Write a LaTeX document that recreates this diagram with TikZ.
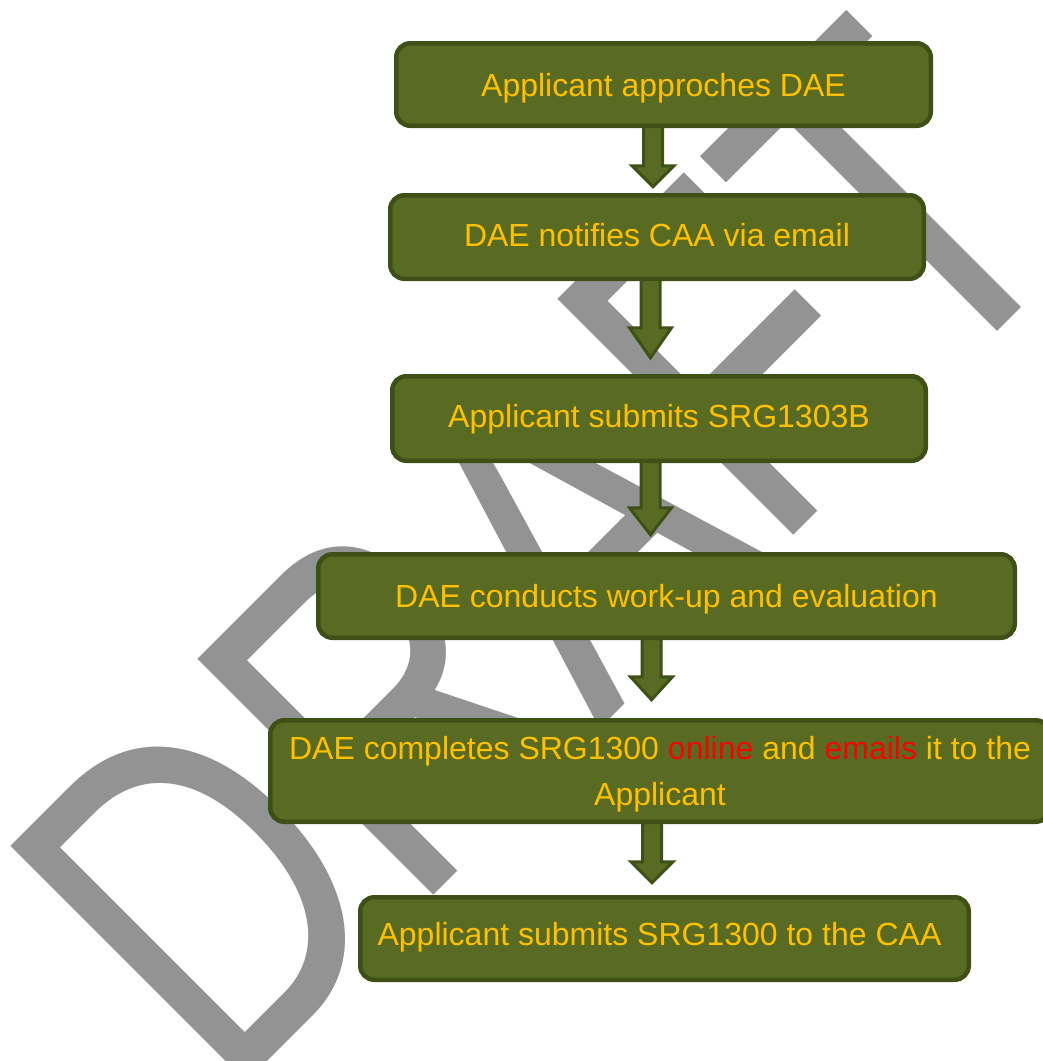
\documentclass[tikz,border=0pt]{standalone}
\usepackage{fontspec}
\setmainfont{Liberation Sans}
\usetikzlibrary{calc}
\definecolor{boxfill}{RGB}{89,107,35}
\definecolor{boxline}{RGB}{63,80,22}
\definecolor{txt}{RGB}{255,192,0}
\definecolor{wm}{RGB}{147,147,147}
\definecolor{redtxt}{RGB}{255,0,0}
\pgfdeclarelayer{wmlayer}
\pgfdeclarelayer{arrowlayer}
\pgfsetlayers{wmlayer,arrowlayer,main}
\tikzset{
  stepbox/.style={draw=boxline, fill=boxfill, line width=4.5pt, rounded corners=14pt,
    text=txt, font=\fontsize{32}{46}\selectfont, inner sep=0pt, outer sep=0pt,
    text height=23pt, text depth=0pt, align=center},
  flowarrow/.style={draw=boxline, fill=boxfill, line width=3pt, line join=miter},
}
\newcommand\flowarr[4]{% node, x offset, shaft length, head length
  \draw[flowarrow] ($(#1.south)+(#2,0)$) ++(-9.5,0) -- ++(0,#3) -- ++(-11.5,0)
    -- ++(21,#4) -- ++(21,-#4) -- ++(-11.5,0) -- ++(0,-#3) -- cycle;}
\begin{document}
\begin{tikzpicture}[x=1pt,y=-1pt]
\path[use as bounding box] (0,0) rectangle (1043,1061);
\clip (0,0) rectangle (1043,1061);
\begin{pgfonlayer}{wmlayer}
\node[text=wm, rotate=45, inner sep=0pt, outer sep=0pt] (wmark) at (539,554)
  {\scalebox{0.755}[1]{\fontsize{485}{485}\selectfont DRAFT}};
\end{pgfonlayer}

\node[stepbox, minimum width=534.5pt, minimum height=82.5pt] (b1) at (663.5,84.5) {Applicant approches DAE};
\node[stepbox, minimum width=533.5pt, minimum height=83.5pt, text depth=4pt] (b2) at (657,237) {DAE notifies CAA via email};
\node[stepbox, minimum width=533.5pt, minimum height=84.5pt, text depth=5pt] (b3) at (659,418.5) {Applicant submits SRG1303B};
\node[stepbox, minimum width=696.5pt, minimum height=83.5pt] (b4) at (666.5,596) {DAE conducts work-up and evaluation};
\node[stepbox, minimum width=779.5pt, minimum height=101.5pt, text height=69pt] (b5) at (660,771)
  {DAE completes SRG1300 \textcolor{redtxt}{online} and \textcolor{redtxt}{emails} it to the\\Applicant};
\node[stepbox, minimum width=608.5pt, minimum height=82.5pt, text depth=10pt] (b6) at (664.5,938.5) {Applicant submits SRG1300 to the CAA\hspace*{10pt}};

\begin{pgfonlayer}{arrowlayer}
\flowarr{b1}{-10.5}{40}{21}
\flowarr{b2}{-6.5}{49}{30}
\flowarr{b3}{-8.5}{47}{27}
\flowarr{b4}{-15}{39}{23}
\flowarr{b5}{-8}{40}{21}
\end{pgfonlayer}
\end{tikzpicture}
\end{document}
